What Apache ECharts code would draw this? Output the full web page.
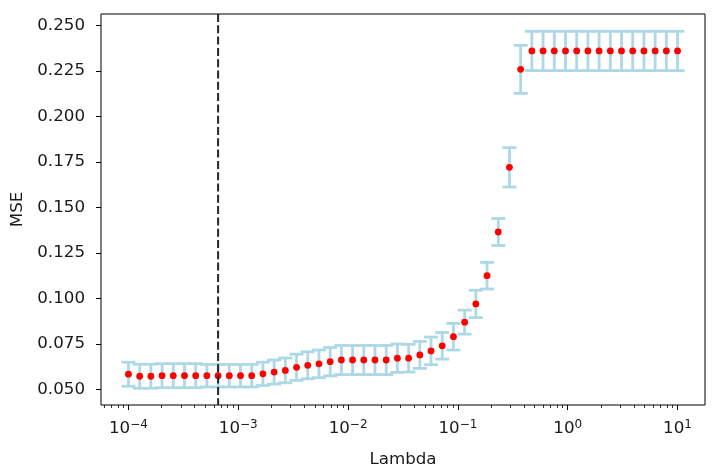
<!DOCTYPE html>
<html>
<head>
<meta charset="utf-8">
<script src="https://cdn.jsdelivr.net/npm/echarts@6/dist/echarts.min.js"></script>
<style>html,body{margin:0;padding:0;background:#fff}#c{width:714px;height:473px}</style>
</head>
<body>
<div id="c"></div>
<script>
// lambda values (x)
const lambdas = [1.0000e-4,1.2649e-4,1.6000e-4,2.0236e-4,2.5595e-4,3.2375e-4,4.0949e-4,5.1795e-4,6.5513e-4,8.2864e-4,
  1.0481e-3,1.3257e-3,1.6768e-3,2.1210e-3,2.6827e-3,3.3932e-3,4.2919e-3,5.4287e-3,6.8665e-3,8.6851e-3,
  1.0985e-2,1.3895e-2,1.7575e-2,2.2230e-2,2.8118e-2,3.5565e-2,4.4984e-2,5.6899e-2,7.1969e-2,9.1030e-2,
  0.11514,0.14563,0.18421,0.23300,0.29471,0.37276,0.47149,0.59636,0.75431,0.95410,
  1.2068,1.5264,1.9307,2.4421,3.0888,3.9069,4.9417,6.2506,7.9060,10.0];
// mean MSE
const mse = [0.0584,0.0573,0.0573,0.0576,0.0576,0.0576,0.0576,0.0576,0.0576,0.0576,
  0.0576,0.0576,0.0586,0.0596,0.0605,0.0622,0.0633,0.0641,0.0653,0.0662,
  0.0662,0.0662,0.0662,0.0662,0.0672,0.0672,0.0690,0.0712,0.0740,0.0790,
  0.0870,0.0970,0.1125,0.1365,0.1720,0.2258,0.2359,0.2359,0.2359,0.2359,
  0.2359,0.2359,0.2359,0.2359,0.2359,0.2359,0.2359,0.2359,0.2359,0.2359];
// error half-widths
const err = [0.0066,0.0066,0.0066,0.0066,0.0066,0.0066,0.0066,0.0062,0.0062,0.0062,
  0.0062,0.0062,0.0064,0.0066,0.0068,0.0072,0.0074,0.0076,0.0078,0.0080,
  0.0080,0.0080,0.0080,0.0080,0.0078,0.0076,0.0074,0.0076,0.0073,0.0073,
  0.0066,0.0075,0.0073,0.0074,0.0108,0.0132,0.0108,0.0108,0.0108,0.0108,
  0.0108,0.0108,0.0108,0.0108,0.0108,0.0108,0.0108,0.0108,0.0108,0.0108];
const bestLambda = 6.5513e-4;
const yTicks = [0.050,0.075,0.100,0.125,0.150,0.175,0.200,0.225,0.250];
const xTicks = [1e-4,1e-3,1e-2,1e-1,1e0,1e1];
const xMinorTicks = [];
for (let e = -5; e <= 1; e++) for (let m = 2; m <= 9; m++) xMinorTicks.push(m * Math.pow(10, e));

const FONT = 'DejaVu Sans';
const TXT = '#1a1a1a';
const FS = 16.7;
const points = lambdas.map((l, i) => [l, mse[i]]);
const bars = lambdas.map((l, i) => [l, mse[i] - err[i], mse[i] + err[i]]);

const chart = echarts.init(document.getElementById('c'), null, {renderer: 'canvas'});
const xMin = Math.pow(10, -4.25), xMax = Math.pow(10, 1.25);
chart.setOption({
  animation: false,
  backgroundColor: '#fff',
  grid: {left: 101, right: 9, top: 14, bottom: 68, show: true, borderColor: '#000', borderWidth: 1, outerBoundsMode: 'none'},
  xAxis: [{
    type: 'log', logBase: 10, min: xMin, max: xMax,
    name: 'Lambda', nameLocation: 'middle', nameGap: 46,
    nameTextStyle: {fontFamily: FONT, fontSize: FS, color: TXT},
    axisLine: {show: false},
    splitLine: {show: false},
    axisTick: {show: true, length: 5, lineStyle: {color: '#000', width: 1}, customValues: xTicks},
    axisLabel: {
      customValues: xTicks, margin: 14, color: TXT, fontFamily: FONT,
      formatter: v => '{b|10}{s|' + String(Math.round(Math.log10(v))).replace('-', '\u2212') + '}',
      rich: {
        b: {fontFamily: FONT, fontSize: FS, color: TXT},
        s: {fontFamily: FONT, fontSize: 12, color: TXT, verticalAlign: 'bottom', padding: [0, 0, 7, 0]}
      }
    }
  }, {
    type: 'log', logBase: 10, min: xMin, max: xMax, position: 'bottom',
    axisLine: {show: false}, splitLine: {show: false},
    axisTick: {show: true, length: 3, lineStyle: {color: '#000', width: 0.8}, customValues: xMinorTicks},
    axisLabel: {show: false}
  }],
  yAxis: {
    type: 'value', min: 0.0415, max: 0.2562,
    name: 'MSE', nameLocation: 'middle', nameGap: 74,
    nameTextStyle: {fontFamily: FONT, fontSize: FS, color: TXT},
    axisLine: {show: false},
    splitLine: {show: false},
    axisTick: {show: true, length: 5, lineStyle: {color: '#000', width: 1}, customValues: yTicks},
    axisLabel: {customValues: yTicks, margin: 16, fontFamily: FONT, fontSize: FS, color: TXT,
      formatter: v => v.toFixed(3)}
  },
  series: [{
    type: 'custom',
    xAxisIndex: 0,
    data: bars,
    z: 2,
    renderItem: (params, api) => {
      const lo = api.coord([api.value(0), api.value(1)]);
      const hi = api.coord([api.value(0), api.value(2)]);
      const cw = 7;
      const st = {stroke: '#add8e6', lineWidth: 2.8};
      return {type: 'group', children: [
        {type: 'line', shape: {x1: lo[0], y1: lo[1], x2: hi[0], y2: hi[1]}, style: st},
        {type: 'line', shape: {x1: lo[0] - cw, y1: lo[1], x2: lo[0] + cw, y2: lo[1]}, style: st},
        {type: 'line', shape: {x1: hi[0] - cw, y1: hi[1], x2: hi[0] + cw, y2: hi[1]}, style: st}
      ]};
    }
  }, {
    type: 'scatter',
    xAxisIndex: 0,
    data: points,
    symbol: 'circle', symbolSize: 6.8,
    itemStyle: {color: '#ff0000', opacity: 1},
    emphasis: {disabled: true},
    z: 3
  }, {
    type: 'custom',
    xAxisIndex: 0,
    data: [[bestLambda, mse[0]]],
    z: 4,
    silent: true,
    renderItem: (params, api) => {
      const p = api.coord([api.value(0), api.value(1)]);
      const cs = params.coordSys;
      return {type: 'line', shape: {x1: p[0], y1: cs.y, x2: p[0], y2: cs.y + cs.height},
        style: {stroke: '#262626', lineWidth: 2, lineDash: [8, 3.3]}};
    }
  }]
});
</script>
</body>
</html>
